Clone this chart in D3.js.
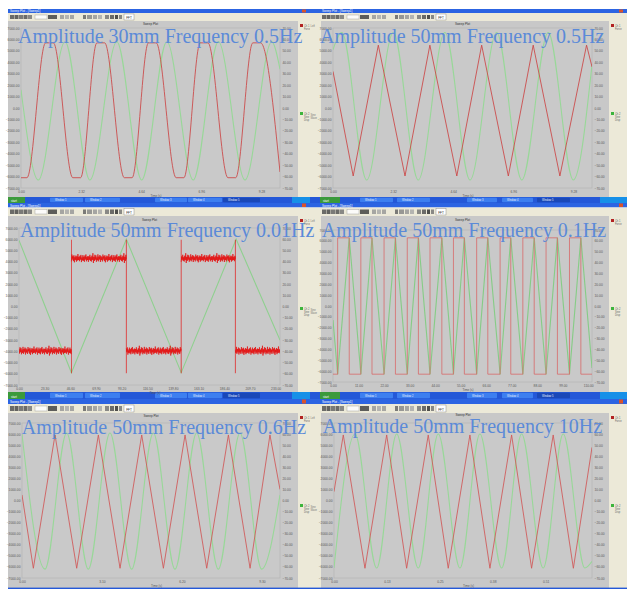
<!DOCTYPE html>
<html><head><meta charset="utf-8">
<script src="https://cdn.jsdelivr.net/npm/d3@7/dist/d3.min.js"></script>
<style>html,body{margin:0;padding:0;background:#fff}svg{display:block}</style>
</head><body>
<svg id="c" width="627" height="589"></svg>
<script>
// ---------------- DATA ----------------
const titles = [
  "Amplitude 30mm Frequency 0.5Hz",
  "Amplitude 50mm Frequency 0.5Hz",
  "Amplitude 50mm Frequency 0.01Hz",
  "Amplitude 50mm Frequency 0.1Hz",
  "Amplitude 50mm Frequency 0.6Hz",
  "Amplitude 50mm Frequency 10Hz"
];
const timeSpans = [10, 10, 237, 111.6, 10, 0.619];
const leftTicks = [-7000,-6000,-5000,-4000,-3000,-2000,-1000,0,1000,2000,3000,4000,5000,6000,7000];
const rightTicks = [-70,-60,-50,-40,-30,-20,-10,0,10,20,30,40,50,60,70];
const xTicksP1 = [0, 2.32, 4.64, 6.96, 9.28];
const xTicksP2 = [0, 2.32, 4.64, 6.96, 9.28];
const xTicksP3 = [0, 23.3, 46.6, 69.9, 93.2, 116.5, 139.8, 163.1, 186.4, 209.7, 233];
const xTicksP4 = [0, 11, 22, 33, 44, 55, 66, 77, 88, 99, 110];
const xTicksP5 = [0, 3.1, 6.2, 9.3];
const xTicksP6 = [0, 0.127, 0.254, 0.381, 0.508];
const legendRed = ["Ch 1", "Force"];
const legendGreen = ["Ch 2", "Sine", "Disp"];

// red series read on the left scale, green series on the right scale: [time, value]
const p1Red = [[0,-6100],[0.23,-6100],[0.95,5700],[1.25,5700],[2.0,-6100],[2.3,-6100],[2.93,5700],[3.23,5700],[3.99,-6100],[4.29,-6100],[4.92,5700],[5.22,5700],[5.99,-6100],[6.29,-6100],[6.92,5700],[7.22,5700],[7.99,-6100],[8.29,-6100],[8.95,5700],[9.25,5700],[10,-5600]];
const p1Green = [[0,16],[0.67,-63],[1.70,58],[2.66,-63],[3.70,58],[4.66,-63],[5.63,58],[6.65,-63],[7.62,58],[8.65,-63],[9.68,58],[10,34]];
const p2Red = [[0,3200],[0.78,-5950],[1.75,5500],[2.78,-5950],[3.74,5500],[4.78,-5950],[5.74,5500],[6.77,-5950],[7.73,5500],[8.76,-5950],[9.79,5500],[10,3600]];
const p2Green = [[0,51],[0.34,66],[1.30,-63],[2.33,66],[3.29,-63],[4.32,66],[5.29,-63],[6.32,66],[7.29,-63],[8.31,66],[9.28,-63],[10,38]];
const p3Green = [[0,59],[47.6,-59],[97.5,60],[147.3,-59],[197.2,60],[237,-30]];
const p3RedLevels = [[0,47.6,-3950],[47.6,97.5,4300],[97.5,147.3,-3950],[147.3,196.5,4300],[196.5,237,-3950]];
const p3RedEdges = [47.6, 97.5, 147.3, 196.5];
const p3RedEdgeRange = [-5950, 5950];
const p3Noise = [120,-240,310,-90,260,-310,40,-180,350,-270,150,-60,290,-330,210,-140,80,-280,330,-20,190,-250,270,-360,60,-120,240,-300,170,-200,380,-150,100,-260,220,-80,300,-340,20,-190,280,-230,130,-310,250,-50,340,-270,90,-160,200,-320,160,-110,310,-240,70,-290,230,-130,450,-420];
const p4RedRises = [2.0,12.0,22.0,32.0,41.8,51.9,61.9,72.0,81.8,91.8,101.9];
const p4RedFalls = [7.0,16.8,26.9,36.8,46.9,56.6,66.7,76.6,86.7,96.7,106.8];
const p4RedLevels = [-6280, 6280];
const p4Green = [[0,-13],[2.0,-63],[7.0,63],[12.0,-63],[16.8,63],[22.0,-63],[26.9,63],[32.0,-63],[36.8,63],[41.8,-63],[46.9,63],[51.9,-63],[56.6,63],[61.9,-63],[66.7,63],[72.0,-63],[76.6,63],[81.8,-63],[86.7,63],[91.8,-63],[96.7,63],[101.9,-63],[106.8,63],[111.6,-57]];
const p5Red = [[0,500],[0.44,-6120],[1.28,5920],[2.12,-6120],[2.96,5920],[3.80,-6120],[4.64,5920],[5.48,-6120],[6.32,5920],[7.16,-6120],[8.00,5920],[8.84,-6120],[9.61,5920],[10,1000]];
const p5Green = [[0,60],[0.89,-62],[1.73,61],[2.57,-62],[3.41,61],[4.25,-62],[5.09,61],[5.93,-62],[6.77,61],[7.61,-62],[8.45,61],[9.29,-62],[10,5]];
const p6Red = [[0,800],[0.0223,5920],[0.0743,-6120],[0.1264,5920],[0.1743,-6120],[0.2261,5920],[0.2741,-6120],[0.3261,5920],[0.3741,-6120],[0.4261,5920],[0.4741,-6120],[0.5259,5920],[0.5743,-6120],[0.619,4800]];
const p6Green = [[0,-61],[0.0504,60],[0.1024,-61],[0.1504,60],[0.2022,-61],[0.2501,60],[0.3022,-61],[0.3501,60],[0.4022,-61],[0.4501,60],[0.5019,-61],[0.5499,60],[0.6019,-61],[0.619,-55]];

// ---------------- LAYOUT ----------------
const svg = d3.select('#c');
const C_TASK = '#2458d8', C_TITLE = '#2c64e2', C_BEIGE = '#ece9d8', C_GREY = '#c8c8c8';
const rows = [
  {task:null, title:[9,13], tool:[13,21], content:[21,197]},
  {task:[197,203], title:[203,207.5], tool:[207.5,216], content:[216,392]},
  {task:[392,399], title:[399,404], tool:[404,413], content:[413,588]}
];
const cols = [
  {x0:8, x1:310, plot:[8,298], legend:[298,310], strip:null, tool:8, start:[8,25],
   buttons:[[50,83],[85,120],[155,187],[188,222],[223,260]], tray:[292,310]},
  {x0:310, x1:627, plot:[321,609], legend:[609,627], strip:[310,321], tool:320, start:[320,340],
   buttons:[[360,393],[397,430],[467,497],[502,533],[537,570]], tray:[600,627]}
];

function tiny(g, x, y, s, fill, size, anchor) {
  g.append('text').attr('x', x).attr('y', y).text(s)
    .attr('font-family', 'Arial, Liberation Sans, sans-serif')
    .attr('font-size', size || 3.2).attr('fill', fill || '#555')
    .attr('text-anchor', anchor || 'start');
}

function drawWindow(r, c) {
  const R = rows[r], C = cols[c];
  const g = svg.append('g');
  const w = C.x1 - C.x0;
  if (R.task) {
    g.append('rect').attr('x', C.x0).attr('y', R.task[0]).attr('width', w).attr('height', R.task[1]-R.task[0]).attr('fill', C_TASK);
    g.append('rect').attr('x', C.start[0]).attr('y', R.task[0]).attr('width', C.start[1]-C.start[0]).attr('height', R.task[1]-R.task[0]).attr('fill', '#3b9a3b');
    tiny(g, C.start[0]+3, R.task[1]-1.5, 'start', '#fff', 3);
    C.buttons.forEach((b, i) => {
      g.append('rect').attr('x', b[0]).attr('y', R.task[0]+0.8).attr('width', b[1]-b[0]).attr('height', R.task[1]-R.task[0]-1.6)
        .attr('fill', i === 4 ? '#1a48b8' : '#3d7ff0').attr('rx', 0.8);
      tiny(g, b[0]+5, R.task[1]-1.8, 'Window ' + (i+1), '#e8f0ff', 2.6);
    });
    g.append('rect').attr('x', C.tray[0]).attr('y', R.task[0]).attr('width', C.tray[1]-C.tray[0]).attr('height', R.task[1]-R.task[0]).attr('fill', '#1690e8');
  }
  // title bar
  g.append('rect').attr('x', C.x0).attr('y', R.title[0]).attr('width', w).attr('height', R.title[1]-R.title[0]).attr('fill', C_TITLE);
  tiny(g, C.tool+2, R.title[1]-1, 'Sweep Plot - [Sweep1]', '#fff', 3);
  g.append('rect').attr('x', C.x1-8).attr('y', R.title[0]+0.5).attr('width', 4).attr('height', R.title[1]-R.title[0]-1).attr('fill', '#d9542b');
  // toolbar
  g.append('rect').attr('x', C.x0).attr('y', R.tool[0]).attr('width', w).attr('height', R.tool[1]-R.tool[0]).attr('fill', C_BEIGE);
  const ty = R.tool[0] + 2, th = R.tool[1] - R.tool[0] - 4;
  const icons = [[2,4,'#555'],[6.5,4,'#4a4a4a'],[11,4,'#666'],[15.5,4,'#555'],[20,4,'#777'],[27,12,'#fff'],[40,9,'#444'],[52,4,'#999'],[57,4,'#aaa'],[62,4,'#999'],[75,3,'#666'],[79,5,'#888'],[85,4,'#999'],[90,4,'#aaa'],[97,4,'#777'],[102,4,'#555'],[107,3,'#333'],[111,3,'#777']];
  icons.forEach(ic => {
    g.append('rect').attr('x', C.tool+ic[0]).attr('y', ty).attr('width', ic[1]).attr('height', th)
      .attr('fill', ic[2]).attr('stroke', ic[2] === '#fff' ? '#888' : 'none').attr('stroke-width', 0.4).attr('opacity', 0.85);
  });
  g.append('rect').attr('x', C.tool+116).attr('y', R.tool[0]+1).attr('width', 10).attr('height', R.tool[1]-R.tool[0]-2)
    .attr('fill', '#fff').attr('stroke', '#777').attr('stroke-width', 0.4);
  tiny(g, C.tool+121, R.tool[1]-2.2, 'FFT', '#222', 3, 'middle');
  // content
  g.append('rect').attr('x', C.x0).attr('y', R.content[0]).attr('width', w).attr('height', R.content[1]-R.content[0]).attr('fill', C_BEIGE);
  g.append('rect').attr('x', C.plot[0]).attr('y', R.content[0]).attr('width', C.plot[1]-C.plot[0]).attr('height', R.content[1]-R.content[0]).attr('fill', C_GREY);
  // legend
  const lx = C.legend[0] + 2;
  g.append('rect').attr('x', lx).attr('y', R.content[0]+3).attr('width', 3).attr('height', 3).attr('fill', '#b22222');
  legendRed.forEach((s, i) => tiny(g, lx+4, R.content[0]+5.5+i*3.2, s, '#666', 2.6));
  g.append('rect').attr('x', lx).attr('y', R.content[0]+91).attr('width', 3).attr('height', 3).attr('fill', '#3cb43c');
  legendGreen.forEach((s, i) => tiny(g, lx+4, R.content[0]+93.5+i*3.2, s, '#666', 2.6));
  if (C.strip) {
    tiny(g, C.strip[0]+0.5, R.content[0]+6, 'Left', '#777', 2.6);
    tiny(g, C.strip[0]+0.5, R.content[0]+95, 'Sine', '#777', 2.6);
    tiny(g, C.strip[0]+0.5, R.content[0]+98.2, 'Wave', '#777', 2.6);
  }
}

for (let r = 0; r < 3; r++) for (let c = 0; c < 2; c++) drawWindow(r, c);
svg.append('rect').attr('x', 8).attr('y', 587.6).attr('width', 619).attr('height', 1.4).attr('fill', C_TASK);

const panels = [
  {T:timeSpans[0], xt:xTicksP1, red:p1Red, green:p1Green, redCurve:d3.curveMonotoneX, f:{x0:21,x1:280,y0:28,y1:188}, st:25, tx:18, ty:43, rc:'#cc4646', gc:'#98d898'},
  {T:timeSpans[1], xt:xTicksP2, red:p2Red, green:p2Green, redCurve:d3.curveLinear, f:{x0:333,x1:592,y0:28,y1:188}, st:25, tx:320, ty:42.7, rc:'#cc4646', gc:'#98d898'},
  {T:timeSpans[2], xt:xTicksP3, red:null, green:p3Green, redCurve:d3.curveLinear, f:{x0:19,x1:280,y0:228,y1:385}, st:221, tx:20, ty:236.7, rc:'#e41010', gc:'#8fd08f'},
  {T:timeSpans[3], xt:xTicksP4, red:'step', green:p4Green, redCurve:d3.curveLinear, f:{x0:333,x1:592,y0:230,y1:382}, st:221, tx:321.7, ty:236.7, rc:'#d86a6a', gc:'#86cc86'},
  {T:timeSpans[4], xt:xTicksP5, red:p5Red, green:p5Green, redCurve:d3.curveLinear, f:{x0:22,x1:280,y0:423,y1:578}, st:417, tx:21.7, ty:434.3, rc:'#d05858', gc:'#98d898'},
  {T:timeSpans[5], xt:xTicksP6, red:p6Red, green:p6Green, redCurve:d3.curveLinear, f:{x0:334,x1:592,y0:423,y1:578}, st:416, tx:322.7, ty:433.3, rc:'#d05858', gc:'#98d898'}
];

const fmt = d3.format('.2f');
panels.forEach((p, i) => {
  const f = p.f;
  const g = svg.append('g');
  const x = d3.scaleLinear().domain([0, p.T]).range([f.x0, f.x1]);
  const yL = d3.scaleLinear().domain([-7000, 7000]).range([f.y1, f.y0]);
  const yR = d3.scaleLinear().domain([-70, 70]).range([f.y1, f.y0]);
  g.append('rect').attr('x', f.x0).attr('y', f.y0).attr('width', f.x1-f.x0).attr('height', f.y1-f.y0)
    .attr('fill', '#c9c9c9').attr('stroke', '#b2b2b2').attr('stroke-width', 0.6);
  tiny(g, (f.x0+f.x1)/2, p.st, 'Sweep Plot', '#333', 3, 'middle');
  const styleAxis = sel => {
    sel.select('.domain').remove();
    sel.selectAll('text').attr('font-size', 3.3).attr('fill', '#5a5a5a').attr('font-family', 'Arial, sans-serif');
  };
  g.append('g').attr('transform', `translate(${f.x0},0)`)
    .call(d3.axisLeft(yL).tickValues(leftTicks).tickSize(0).tickPadding(1.5).tickFormat(fmt)).call(styleAxis);
  g.append('g').attr('transform', `translate(${f.x1},0)`)
    .call(d3.axisRight(yR).tickValues(rightTicks).tickSize(0).tickPadding(2.5).tickFormat(fmt)).call(styleAxis);
  g.append('g').attr('transform', `translate(0,${f.y1})`)
    .call(d3.axisBottom(x).tickValues(p.xt).tickSize(0).tickPadding(2.5).tickFormat(fmt)).call(styleAxis);
  tiny(g, (f.x0+f.x1)/2, f.y1+8.5, 'Time (s)', '#555', 3);

  const clipId = 'clip' + i;
  svg.append('clipPath').attr('id', clipId).append('rect')
    .attr('x', f.x0).attr('y', f.y0-6).attr('width', f.x1-f.x0).attr('height', f.y1-f.y0+6);
  const plot = g.append('g').attr('clip-path', `url(#${clipId})`);

  const lineG = d3.line().x(d => x(d[0])).y(d => yR(d[1])).curve(d3.curveMonotoneX);
  const lineGLin = d3.line().x(d => x(d[0])).y(d => yR(d[1])).curve(d3.curveLinear);
  const lineR = d3.line().x(d => x(d[0])).y(d => yL(d[1])).curve(p.redCurve);

  const greenIsTriangle = (i === 2 || i === 3);
  plot.append('path').datum(p.green).attr('d', greenIsTriangle ? lineGLin : lineG)
    .attr('fill', 'none').attr('stroke', p.gc).attr('stroke-width', 1.1);

  if (i === 2) {
    const pxPerS = (f.x1 - f.x0) / p.T;
    const dt = 0.5 / pxPerS;
    p3RedLevels.forEach((lv, k) => {
      const n = Math.round((lv[1] - lv[0]) / dt);
      const pts = [];
      for (let j = 0; j <= n; j++) pts.push([lv[0] + (lv[1]-lv[0]) * j / n, lv[2] + p3Noise[(j + k*17) % p3Noise.length]]);
      plot.append('path').datum([[lv[0], lv[2]], [lv[1], lv[2]]]).attr('d', d3.line().x(d => x(d[0])).y(d => yL(d[1])))
        .attr('stroke', p.rc).attr('stroke-width', 3.2).attr('opacity', 0.55).attr('fill', 'none');
      plot.append('path').datum(pts).attr('d', d3.line().x(d => x(d[0])).y(d => yL(d[1])))
        .attr('stroke', p.rc).attr('stroke-width', 0.7).attr('fill', 'none');
    });
    p3RedEdges.forEach(t => {
      plot.append('line').attr('x1', x(t)).attr('x2', x(t)).attr('y1', yL(p3RedEdgeRange[0])).attr('y2', yL(p3RedEdgeRange[1]))
        .attr('stroke', p.rc).attr('stroke-width', 0.8).attr('opacity', 0.85);
    });
  } else if (i === 3) {
    const pts = [[0, p4RedLevels[0]]];
    p4RedRises.forEach((rt, k) => {
      pts.push([rt, p4RedLevels[0]], [rt, p4RedLevels[1]]);
      pts.push([p4RedFalls[k], p4RedLevels[1]], [p4RedFalls[k], p4RedLevels[0]]);
    });
    pts.push([p.T, p4RedLevels[0]]);
    plot.append('path').datum(pts).attr('d', lineR).attr('fill', 'none').attr('stroke', p.rc).attr('stroke-width', 0.8);
  } else {
    plot.append('path').datum(p.red).attr('d', lineR).attr('fill', 'none').attr('stroke', p.rc).attr('stroke-width', 0.95).attr('opacity', 0.9);
  }
});

// overlay titles
panels.forEach((p, i) => {
  svg.append('text').attr('x', p.tx).attr('y', p.ty).text(titles[i])
    .attr('font-family', '"Liberation Serif", "Times New Roman", serif')
    .attr('font-size', 20).attr('fill', '#5b8ad8');
});
</script>
</body></html>
